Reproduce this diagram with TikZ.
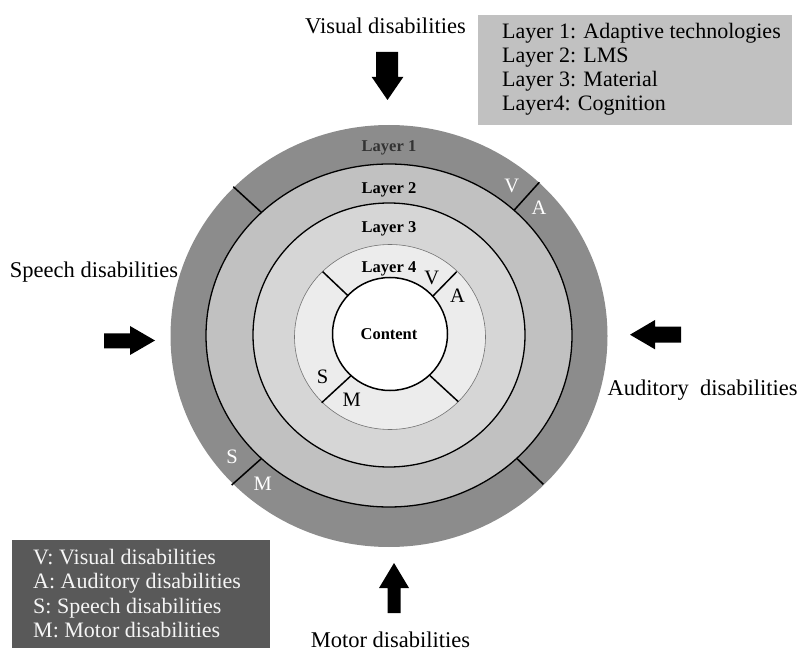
\documentclass[tikz,border=0pt]{standalone}
\usepackage{fontspec}
\setmainfont{Liberation Serif}
\definecolor{ringA}{gray}{0.55}
\definecolor{ringB}{gray}{0.755}
\definecolor{ringC}{gray}{0.84}
\definecolor{ringD}{gray}{0.925}
\definecolor{legtop}{gray}{0.755}
\definecolor{legbot}{gray}{0.35}
\definecolor{legtxt}{gray}{0.96}
\tikzset{
  bigtxt/.style={inner sep=0pt, font=\fontsize{22.5}{24}\selectfont},
  legline/.style={inner sep=0pt, anchor=base west, font=\fontsize{22}{24}\selectfont},
  laylbl/.style={inner sep=0pt, anchor=base, font=\fontsize{16.5}{18}\selectfont\bfseries},
  seglbl/.style={inner sep=0pt, anchor=base, font=\fontsize{20.5}{22}\selectfont},
  divider/.style={line width=1.5pt},
  blockarrow/.style={fill=black},
}
\begin{document}
\begin{tikzpicture}[x=1pt,y=-1pt]
\useasboundingbox (0,0) rectangle (798,652);
% rings
\fill[ringA] (389,336) ellipse [x radius=218.5pt, y radius=211pt];
\filldraw[fill=ringB, draw=black, line width=1.3pt] (389,335.5) ellipse [x radius=183pt, y radius=171.5pt];
\filldraw[fill=ringC, draw=black, line width=1.3pt] (389,335) ellipse [x radius=136pt, y radius=132pt];
\filldraw[fill=ringD, draw=black!55, line width=0.6pt] (390,337) ellipse [x radius=95.5pt, y radius=92.5pt];
% dividers, outer ring
\draw[divider] (233.3,186.7) -- (261.7,212.7);
\draw[divider] (539.3,182.3) -- (514.3,210);
\draw[divider] (231.7,485) -- (261.7,458.3);
\draw[divider] (516.7,458.3) -- (543.3,484.3);
% dividers, layer 4
\draw[divider] (322.7,271.7) -- (348.3,296);
\draw[divider] (456.7,271.7) -- (432.3,296.7);
\draw[divider] (321.7,402.7) -- (350.7,376);
\draw[divider] (429.3,375) -- (458.3,401.7);
% content
\filldraw[fill=white, draw=black, line width=1.5pt] (390,334) ellipse [x radius=57.5pt, y radius=56.5pt];
% layer labels
\node[laylbl, text=black!80] (l1) at (389,151.7) {Layer 1};
\node[laylbl] (l2) at (389,193.3) {Layer 2};
\node[laylbl] (l3) at (389,232.3) {Layer 3};
\node[laylbl] (l4) at (389,272.3) {Layer 4};
\node[laylbl] (content) at (389,339.3) {Content};
% segment letters
\node[seglbl, text=white] (oV) at (511.7,193) {V};
\node[seglbl, text=white] (oA) at (539,215) {A};
\node[seglbl, text=white] (oS) at (232,463.3) {S};
\node[seglbl, text=white] (oM) at (262.7,490.7) {M};
\node[seglbl] (iV) at (431.7,285) {V};
\node[seglbl] (iA) at (457.5,303) {A};
\node[seglbl] (iS) at (322.5,384) {S};
\node[seglbl] (iM) at (351.7,406) {M};
% side labels
\node[bigtxt, anchor=base] (vis) at (385.5,33.3) {Visual disabilities};
\node[bigtxt, anchor=base] (spe) at (94,277.3) {Speech disabilities};
\node[bigtxt, anchor=base] (aud) at (702.5,395.7) {Auditory\ \ disabilities};
\node[bigtxt, anchor=base] (mot) at (390.5,647.5) {Motor disabilities};
% block arrows
\fill[blockarrow] (376,52) -- (398,52) -- (398,77) -- (403.3,77) -- (387.5,100) -- (371.7,77) -- (376,77) -- cycle;
\fill[blockarrow] (104,333.3) -- (130,333.3) -- (130,326) -- (155,340.5) -- (130,355) -- (130,348.3) -- (104,348.3) -- cycle;
\fill[blockarrow] (681,326.7) -- (655,326.7) -- (655,320) -- (630,334.7) -- (655,349.3) -- (655,342.7) -- (681,342.7) -- cycle;
\fill[blockarrow] (387.5,613) -- (387.5,588) -- (379,588) -- (394,563) -- (409,588) -- (400.5,588) -- (400.5,613) -- cycle;
% top legend
\node[fill=legtop, inner sep=0pt, minimum width=314pt, minimum height=110pt, anchor=north west] (legT) at (478,15) {};
\node[legline] (t1) at (502,38.3) {Layer 1: Adaptive technologies};
\node[legline] (t2) at (502,62.5) {Layer 2: LMS};
\node[legline] (t3) at (502,86.5) {Layer 3: Material};
\node[legline] (t4) at (502,110.7) {Layer4: Cognition};
% bottom legend
\node[fill=legbot, inner sep=0pt, minimum width=258pt, minimum height=108pt, anchor=north west] (legB) at (12,540) {};
\node[legline, text=legtxt] (b1) at (33,564.3) {V: Visual disabilities};
\node[legline, text=legtxt] (b2) at (33,588.8) {A: Auditory disabilities};
\node[legline, text=legtxt] (b3) at (33,613.3) {S: Speech disabilities};
\node[legline, text=legtxt] (b4) at (33,637.7) {M: Motor disabilities};
\end{tikzpicture}
\end{document}
